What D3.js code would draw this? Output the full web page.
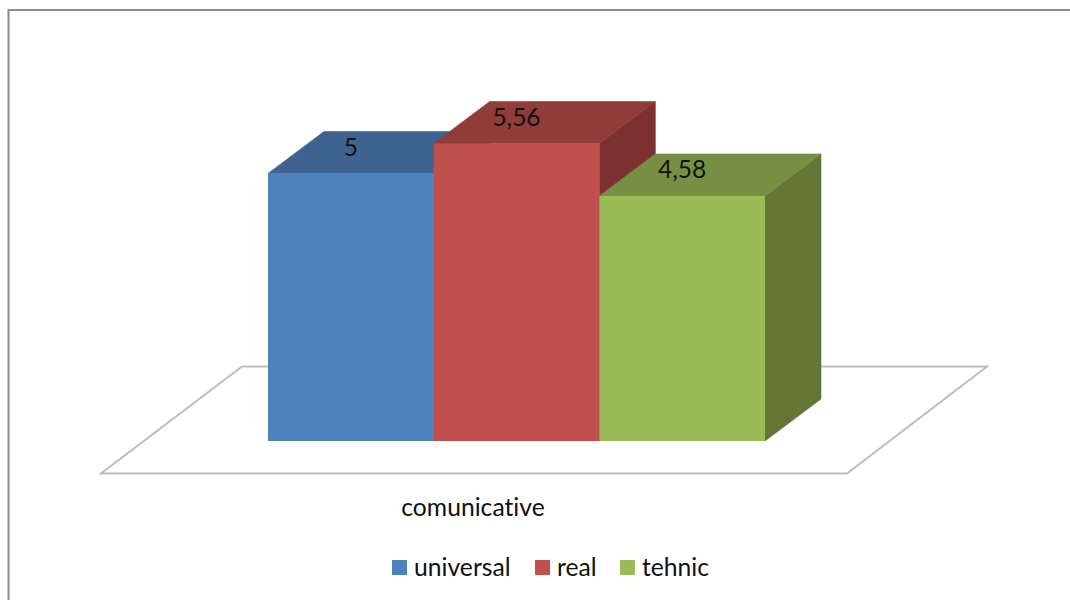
<!DOCTYPE html>
<html>
<head>
<meta charset="utf-8">
<script src="https://d3js.org/d3.v7.min.js"></script>
<style>
  html, body { margin: 0; padding: 0; background: #fff; }
  svg { display: block; }
  text { font-family: Lato, "Open Sans", sans-serif; fill: #111; font-variant-ligatures: none; }
</style>
</head>
<body>
<svg id="chart" width="1070" height="600"></svg>
<script>
const category = "comunicative";
const seriesNames = ["universal", "real", "tehnic"];
const seriesValues = [5, 5.56, 4.58];
const valueLabels = ["5", "5,56", "4,58"];
const frontColors = ["#4f81bd", "#c0504d", "#9bbb59"];
const topColors = ["#3e638f", "#8f3c3a", "#778f43"];
const sideColors = ["#355a85", "#7c3130", "#647636"];

const svg = d3.select("#chart");

// Chart frame: only the top and left edges fall inside the page
svg.append("path")
  .attr("d", "M8.5,600V10H1070")
  .attr("fill", "none").attr("stroke", "#8c8c8c").attr("stroke-width", 2);

const x = d3.scaleBand().domain(seriesNames).range([268, 765]).padding(0);
const y = d3.scaleLinear().domain([0, 5.56]).range([441, 143.5]);
const depthX = 56, depthY = -42;

// Floor of the 3D plot
const floor = [[101, 473.5], [847, 473.5], [987, 366.5], [242, 366.5]];
svg.append("path")
  .attr("d", d3.line()(floor) + "Z")
  .attr("fill", "#fff").attr("stroke", "#bdbdbd").attr("stroke-width", 2)
  .attr("stroke-linejoin", "miter");

const bars = seriesNames.map((name, i) => ({
  name, i, value: seriesValues[i], label: valueLabels[i],
  x0: x(name), x1: x(name) + x.bandwidth(), yTop: y(seriesValues[i]), yBase: y(0)
}));

const poly = d3.line();
// Painted left to right so each bar covers the side face of the one before it.
// Faces carry a hairline stroke in their own colour to close the seams between them.
const g = svg.selectAll("g.bar").data(bars).join("g").attr("class", "bar");

g.append("path").attr("fill", d => sideColors[d.i])
  .attr("stroke", d => sideColors[d.i]).attr("stroke-width", 0.6)
  .attr("d", d => poly([[d.x1, d.yTop], [d.x1 + depthX, d.yTop + depthY],
                        [d.x1 + depthX, d.yBase + depthY], [d.x1, d.yBase]]) + "Z");
g.append("path").attr("fill", d => topColors[d.i])
  .attr("stroke", d => topColors[d.i]).attr("stroke-width", 0.6)
  .attr("d", d => poly([[d.x0, d.yTop], [d.x0 + depthX, d.yTop + depthY],
                        [d.x1 + depthX, d.yTop + depthY], [d.x1, d.yTop]]) + "Z");
g.append("rect").attr("fill", d => frontColors[d.i])
  .attr("x", d => d.x0).attr("y", d => d.yTop)
  .attr("width", d => d.x1 - d.x0).attr("height", d => d.yBase - d.yTop);

// Value labels sit on the top face, centred over the bar's front
svg.selectAll("text.value").data(bars).join("text")
  .attr("class", "value")
  .attr("x", d => (d.x0 + d.x1) / 2)
  .attr("y", d => d.yTop - 24)
  .attr("text-anchor", "middle").attr("dominant-baseline", "middle")
  .attr("font-size", 24.5)
  .text(d => d.label);

// Category label
svg.append("text").attr("x", 473).attr("y", 516)
  .attr("text-anchor", "middle").attr("font-size", 24.7).text(category);

// Legend
const legendKeys = [392, 535, 620];
const legend = svg.selectAll("g.key").data(seriesNames).join("g").attr("class", "key")
  .attr("transform", (d, i) => `translate(${legendKeys[i]},560)`);
legend.append("rect").attr("width", 15).attr("height", 15).attr("fill", (d, i) => frontColors[i]);
legend.append("text").attr("x", 22).attr("y", 16).attr("font-size", 24.7).text(d => d);
</script>
</body>
</html>
